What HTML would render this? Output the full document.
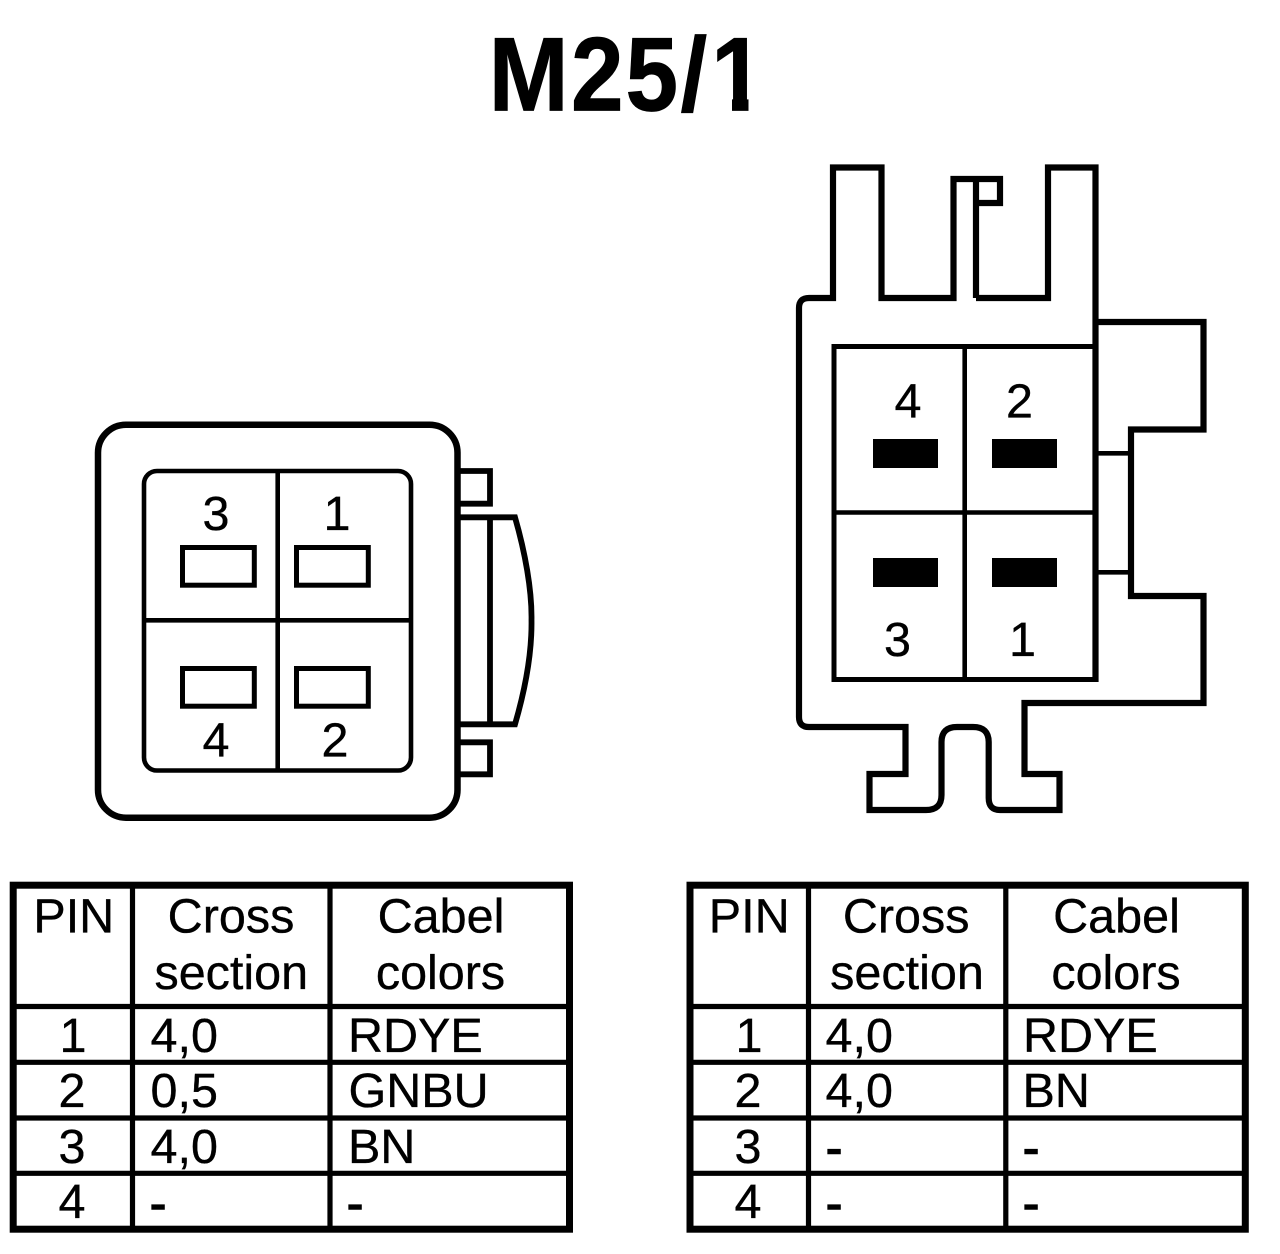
<!DOCTYPE html>
<html>
<head>
<meta charset="utf-8">
<title>M25/1</title>
<style>
html,body{margin:0;padding:0;background:#fff;width:1280px;height:1254px;overflow:hidden}
svg{display:block;position:absolute;left:0;top:0}
text{font-family:"Liberation Sans",Arial,sans-serif;fill:#000}
.t{font-size:48.5px;stroke:#000;stroke-width:.35px}
.m{text-anchor:middle}
.d{stroke:#000;stroke-width:1.6px}
.h{font-size:105px;font-weight:bold;stroke:#000;stroke-width:.8px}
</style>
</head>
<body>
<svg width="1280" height="1254" viewBox="0 0 1280 1254" xmlns="http://www.w3.org/2000/svg">
<defs>
<clipPath id="one"><path d="M700 20H748.5V115H732V95H700Z"/></clipPath>
</defs>
<rect width="1280" height="1254" fill="#fff"/>

<text class="h" transform="translate(488.6 110.7) scale(.915 1)">M</text>
<text class="h" transform="translate(571 110.7) scale(.9 1)">2</text>
<text class="h" transform="translate(625.5 110.7) scale(.9 1)">5</text>
<text class="h" transform="translate(680.5 110.7) scale(.915 1)">/</text>
<g clip-path="url(#one)"><text class="h" transform="translate(711 110.7) scale(.915 1)">1</text></g>

<!-- Left connector -->
<g fill="none" stroke="#000" stroke-linejoin="miter">
  <rect x="98" y="424.7" width="359.5" height="393" rx="28" ry="28" stroke-width="6.5"/>
  <rect x="144" y="471" width="267" height="299.5" rx="13" ry="13" stroke-width="4.6"/>
  <path d="M277.7 471V770.5M144 620.3H411" stroke-width="4.6"/>
  <rect x="182.5" y="547.5" width="71.8" height="37.7" stroke-width="5"/>
  <rect x="296.5" y="547.5" width="71.8" height="37.7" stroke-width="5"/>
  <rect x="182.5" y="668.5" width="71.8" height="37.7" stroke-width="5"/>
  <rect x="296.5" y="668.5" width="71.8" height="37.7" stroke-width="5"/>
  <path d="M457.5 471H490V503.7H457.5M457.5 742.3H490V774.3H457.5" stroke-width="5.8"/>
  <path d="M457.5 517.3H515C525 552 532 590 531.5 620C532 655 525 690 515 724.3H457.5M490 517.3V724.3" stroke-width="5.8"/>
</g>
<text class="t" x="202.5" y="530">3</text>
<text class="t" x="323.5" y="530">1</text>
<text class="t" x="202.5" y="756.5">4</text>
<text class="t" x="321.5" y="756.5">2</text>

<!-- Right connector -->
<g fill="none" stroke="#000" stroke-linejoin="miter">
  <path d="M1095.5 682V167.5H1048V298H976M976 179V298M976 203H1000V179H953.5V298H881.5V167.5H833V298H809Q799 298 799 308V717Q799 727 809 727H905.5V774H869.5V810H926Q941.5 810 941.5 795V742Q941.5 727 957 727H973Q988.7 727 988.7 742V798Q988.7 810 1000 810H1059.5V774H1024.5V703H1203.5V596H1131V429.5H1203.5V322H1095.5" stroke-width="6.2"/>
  <path d="M1095.5 346.5H834V679.5H1095.5" stroke-width="5"/>
  <path d="M964.7 346.5V679.5M834 512.5H1095.5M1095.5 453.3H1131M1095.5 572.3H1131" stroke-width="4.6"/>
</g>
<g fill="#000">
  <rect x="873" y="439" width="65" height="29"/>
  <rect x="992" y="439" width="65" height="29"/>
  <rect x="873" y="558" width="65" height="29"/>
  <rect x="992" y="558" width="65" height="29"/>
</g>
<text class="t" x="894.5" y="417.5">4</text>
<text class="t" x="1006" y="417.5">2</text>
<text class="t" x="884" y="656">3</text>
<text class="t" x="1009" y="656">1</text>

<!-- Left table -->
<g fill="none" stroke="#000">
  <rect x="13.2" y="885.2" width="556.3" height="344" stroke-width="7"/>
  <path d="M132.5 885V1229M330 885V1229M13 1006.5H570M13 1062.3H570M13 1118H570M13 1173.3H570" stroke-width="5.2"/>
</g>
<text class="t m" x="73.8" y="932.3">PIN</text>
<text class="t m" x="231" y="932.3">Cross</text>
<text class="t m" x="231.3" y="989">section</text>
<text class="t m" x="441" y="932.3">Cabel</text>
<text class="t m" x="440.5" y="989">colors</text>
<text class="t m" x="73" y="1052">1</text>
<text class="t m" x="72" y="1107">2</text>
<text class="t m" x="72" y="1163">3</text>
<text class="t m" x="72" y="1218">4</text>
<text class="t" x="150.5" y="1052">4,0</text>
<text class="t" x="150.5" y="1107">0,5</text>
<text class="t" x="150.5" y="1163">4,0</text>
<text class="t d" x="150" y="1220">-</text>
<text class="t" x="348" y="1052">RDYE</text>
<text class="t" x="348.5" y="1107">GNBU</text>
<text class="t" x="348" y="1163">BN</text>
<text class="t d" x="347" y="1220">-</text>

<!-- Right table -->
<g fill="none" stroke="#000">
  <rect x="690" y="885.2" width="555.3" height="344" stroke-width="7"/>
  <path d="M808.5 885V1229M1005.8 885V1229M690 1006.5H1245M690 1062.3H1245M690 1118H1245M690 1173.3H1245" stroke-width="5.2"/>
</g>
<text class="t m" x="749.2" y="932.3">PIN</text>
<text class="t m" x="906.2" y="932.3">Cross</text>
<text class="t m" x="907" y="989">section</text>
<text class="t m" x="1116.5" y="932.3">Cabel</text>
<text class="t m" x="1116" y="989">colors</text>
<text class="t m" x="749" y="1052">1</text>
<text class="t m" x="748" y="1107">2</text>
<text class="t m" x="748" y="1163">3</text>
<text class="t m" x="748" y="1218">4</text>
<text class="t" x="825.5" y="1052">4,0</text>
<text class="t" x="825.5" y="1107">4,0</text>
<text class="t d" x="826" y="1164.5">-</text>
<text class="t d" x="826" y="1220">-</text>
<text class="t" x="1023" y="1052">RDYE</text>
<text class="t" x="1022.5" y="1107">BN</text>
<text class="t d" x="1023" y="1164.5">-</text>
<text class="t d" x="1023" y="1220">-</text>
</svg>
</body>
</html>
